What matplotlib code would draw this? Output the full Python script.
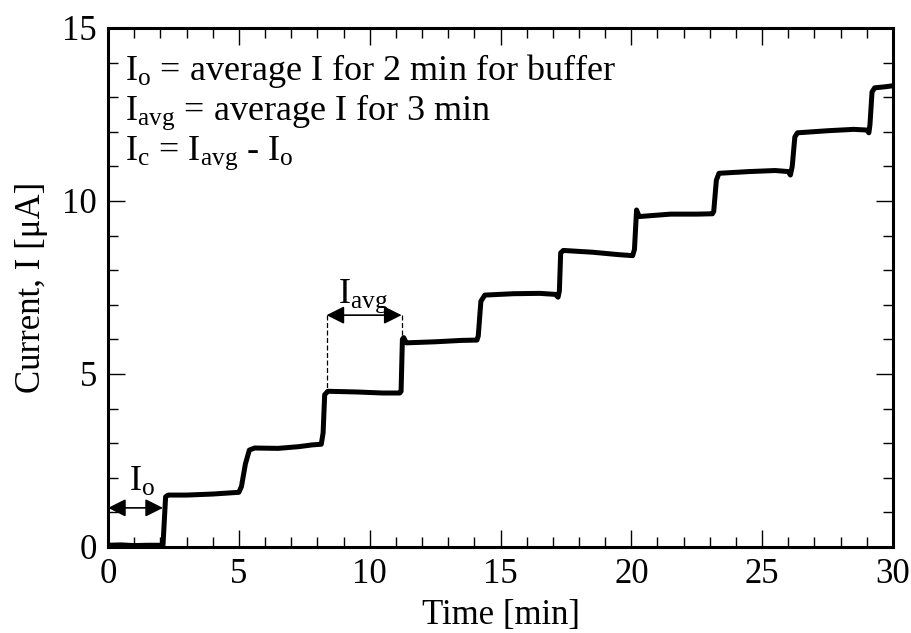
import matplotlib
matplotlib.use("Agg")
import matplotlib.pyplot as plt
from matplotlib.ticker import MultipleLocator

# ---- data ----
time_min = [0.0, 0.5, 1.0, 1.5, 2.1,
            2.2, 2.3, 3.0, 4.0, 4.8, 5.0,
            5.1, 5.25, 5.4, 5.6, 6.5, 7.3, 7.8, 8.15,
            8.22, 8.28, 8.4, 9.5, 10.5, 11.15,
            11.2, 11.25, 11.3, 11.4, 12.5, 13.5, 14.1,
            14.15, 14.25, 14.4, 15.5, 16.5, 17.1, 17.2,
            17.25, 17.3, 17.4, 18.5, 19.5, 20.05,
            20.12, 20.2, 20.3, 21.5, 22.5, 23.1,
            23.15, 23.25, 23.35, 24.5, 25.5, 26.0, 26.08,
            26.15, 26.25, 26.35, 27.5, 28.5, 29.0, 29.08,
            29.12, 29.2, 29.3, 29.7, 30.0]
current_uA = [0.05, 0.06, 0.04, 0.05, 0.05,
              1.45, 1.50, 1.50, 1.53, 1.57, 1.58,
              1.75, 2.40, 2.80, 2.86, 2.85, 2.90, 2.95, 2.97,
              3.30, 4.40, 4.50, 4.48, 4.45, 4.45,
              4.50, 6.00, 6.05, 5.90, 5.93, 5.97, 5.98,
              6.10, 7.10, 7.28, 7.32, 7.33, 7.30, 7.22,
              7.40, 8.50, 8.57, 8.52, 8.45, 8.42,
              8.60, 9.74, 9.55, 9.62, 9.62, 9.63,
              9.70, 10.60, 10.80, 10.85, 10.88, 10.85, 10.75,
              11.00, 11.85, 11.97, 12.03, 12.07, 12.05, 11.97,
              12.20, 13.15, 13.27, 13.30, 13.33]

legend_lines = [r"I$_\mathrm{o}$ = average I for 2 min for buffer",
                r"I$_\mathrm{avg}$ = average I for 3 min",
                r"I$_\mathrm{c}$ = I$_\mathrm{avg}$ - I$_\mathrm{o}$"]
io_span = [0.0, 2.1]
io_level = 1.13
iavg_span = [8.35, 11.22]
iavg_level = 6.7
iavg_drop = [4.5, 6.04]

plt.rcParams['font.family'] = ['Liberation Serif', 'DejaVu Serif']
plt.rcParams['mathtext.fontset'] = 'custom'
plt.rcParams['mathtext.rm'] = 'Liberation Serif'
plt.rcParams['mathtext.it'] = 'Liberation Serif:italic'
plt.rcParams['mathtext.bf'] = 'Liberation Serif:bold'

fig = plt.figure(figsize=(9.11, 6.33), dpi=100)
ax = fig.add_axes([0.1186, 0.1359, 0.9802 - 0.1186, 0.9558 - 0.1359])

ax.plot(time_min, current_uA, color='black', lw=3.6, solid_joinstyle='round')

ax.set_xlim(0, 30)
ax.set_ylim(0, 15)
ax.xaxis.set_major_locator(MultipleLocator(5))
ax.xaxis.set_minor_locator(MultipleLocator(1))
ax.yaxis.set_major_locator(MultipleLocator(5))
ax.yaxis.set_minor_locator(MultipleLocator(1))
ax.tick_params(which='both', direction='in', top=True, right=True, width=1.0,
               labelsize=25)
ax.tick_params(which='major', length=12, pad=8)
ax.tick_params(which='minor', length=7)
for s in ax.spines.values():
    s.set_linewidth(2.2)

ax.set_xlabel('Time [min]', fontsize=25, labelpad=6)
ax.set_ylabel('Current, I [μA]', fontsize=25, labelpad=10)

# text block
for i, line in enumerate(legend_lines):
    ax.text(0.65, 13.5 - i * 1.15, line, fontsize=26, ha='left', va='baseline')

# I_o arrow
ax.annotate('', xy=(io_span[0], io_level), xytext=(io_span[1], io_level),
            arrowprops=dict(arrowstyle='<|-|>', color='black', lw=1.2,
                            mutation_scale=27, shrinkA=0, shrinkB=0))
ax.text(1.3, 1.62, r"I$_\mathrm{o}$", fontsize=26, ha='center', va='baseline')

# I_avg arrow
ax.annotate('', xy=(iavg_span[0], iavg_level), xytext=(iavg_span[1], iavg_level),
            arrowprops=dict(arrowstyle='<|-|>', color='black', lw=1.2,
                            mutation_scale=27, shrinkA=0, shrinkB=0))
ax.plot([iavg_span[0], iavg_span[0]], [iavg_level, iavg_drop[0]], color='black',
        lw=0.9, ls=(0, (4, 2)))
ax.plot([iavg_span[1], iavg_span[1]], [iavg_level, iavg_drop[1]], color='black',
        lw=0.9, ls=(0, (4, 2)))
ax.text(9.75, 7.05, r"I$_\mathrm{avg}$", fontsize=26, ha='center', va='baseline')

fig.savefig('out.png', dpi=100)
